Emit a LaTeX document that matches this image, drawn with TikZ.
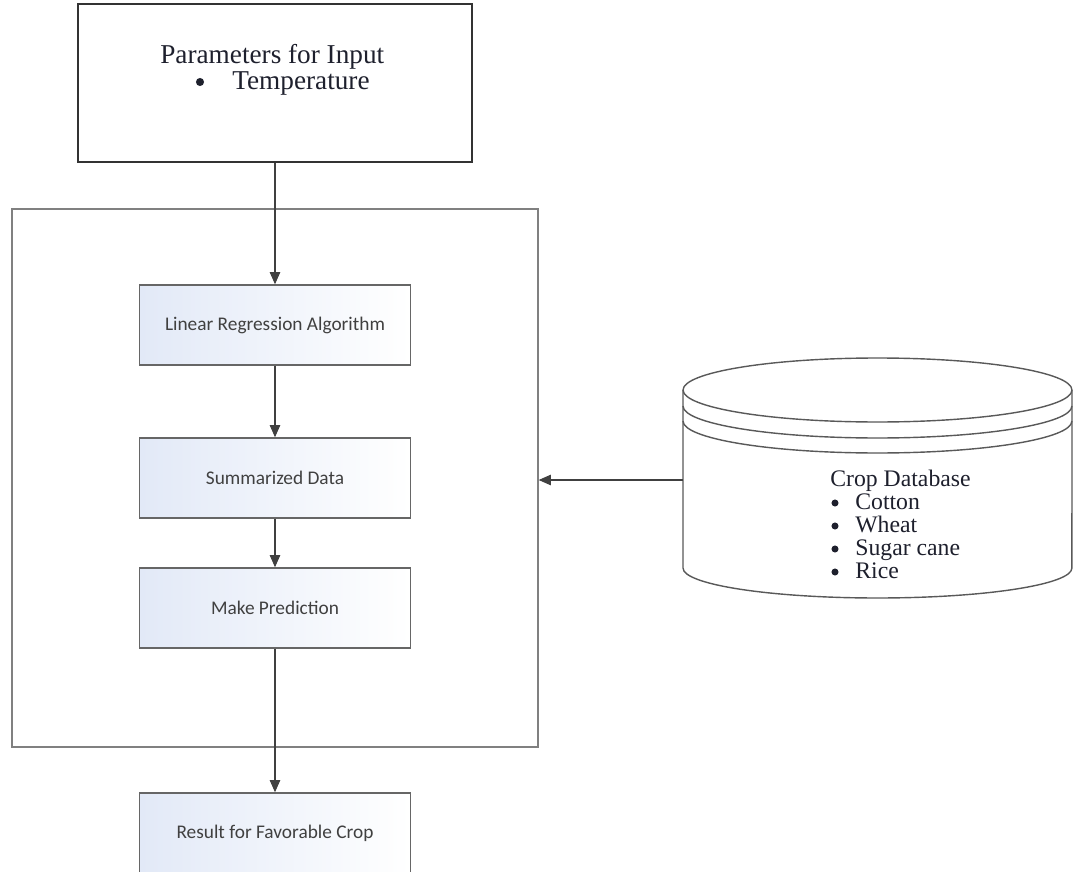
\documentclass[tikz,border=0pt]{standalone}
\usepackage{fontspec}
\setmainfont{Liberation Serif}
\newfontfamily\boxfont{Carlito}
\usetikzlibrary{arrows.meta,calc,positioning}
\definecolor{boxblue}{RGB}{226,233,247}
\definecolor{inkblue}{RGB}{30,32,45}
\tikzset{
  stepbox/.style={draw=black!60, line width=0.8pt, left color=boxblue, right color=white,
    minimum width=5.42cm, minimum height=1.6cm, font=\boxfont\fontsize{11}{13}\selectfont, text=black!75},
  flow/.style={line width=0.6pt, draw=black!75, -{Triangle[length=7pt,width=6pt]}},
  serif/.style={text=inkblue, inner sep=0pt},
  dot/.style={circle, fill=inkblue, inner sep=0pt, minimum size=#1}
}

\begin{document}
\begin{tikzpicture}[x=0.02cm, y=-0.02cm]
			%%%%% START %%%%%
			\useasboundingbox (0,0) rectangle (1073,872);
			
			% input box
			\node[draw=black!80, line width=1.3pt, minimum width=7.88cm, minimum height=3.16cm] (params) at (275,83) {};
			\node[serif, anchor=base west, font=\fontsize{15.5}{17}\selectfont] (partitle) at (160,63) {Parameters for Input};
			\node[dot=4.6pt] (parbul) at (200,82) {};
			\node[serif, anchor=base west, font=\fontsize{15.5}{17}\selectfont] (partemp) at (232,90) {Temperature};
			
			% frame round the method
			\node[draw=black!50, line width=0.8pt, minimum width=10.52cm, minimum height=10.76cm] (frame) at (275,478) {};
			
			\node[stepbox] (lra) at (275,325) {Linear Regression Algorithm};
			\node[stepbox] (summ) at (275,478) {Summarized Data};
			\node[stepbox] (pred) at (275,608) {Make Prediction};
			\node[stepbox] (result) at (275,833) {Result for Favorable Crop};
			
			\draw[flow] (params) -- (lra);
			\draw[flow] (lra) -- (summ);
			\draw[flow] (summ) -- (pred);
			\draw[flow] (pred) -- (result);
			
			% crop database
			\draw[line width=0.8pt, draw=black!65, fill=white] (683,390) -- (683,568)
				arc[start angle=180, end angle=360, x radius=3.89cm, y radius=0.6cm] -- (1072,390);
			\draw[line width=0.8pt, draw=black!65] (877.5,390) ellipse[x radius=3.89cm, y radius=0.64cm];
			\draw[line width=0.8pt, draw=black!65] (683,406) arc[start angle=180, end angle=360, x radius=3.89cm, y radius=0.64cm];
			\draw[line width=0.8pt, draw=black!65] (683,421) arc[start angle=180, end angle=360, x radius=3.89cm, y radius=0.64cm];
			
			\node[serif, anchor=base west, font=\fontsize{13.5}{14}\selectfont] (dbtitle) at (830,486) {Crop Database};
			\foreach \crop [count=\i] in {Cotton, Wheat, Sugar cane, Rice} {
				\node[dot=4pt] (bul\i) at (835,480+23*\i) {};
				\node[serif, anchor=base west, font=\fontsize{13.5}{14}\selectfont] (crop\i) at (855,486+23*\i) {\crop};
			}
			
			\coordinate (dbin) at (683,480);
			\draw[flow] (dbin) -- (dbin -| frame.east);
			
			%%%%% END %%%%%
\end{tikzpicture}
\end{document}
